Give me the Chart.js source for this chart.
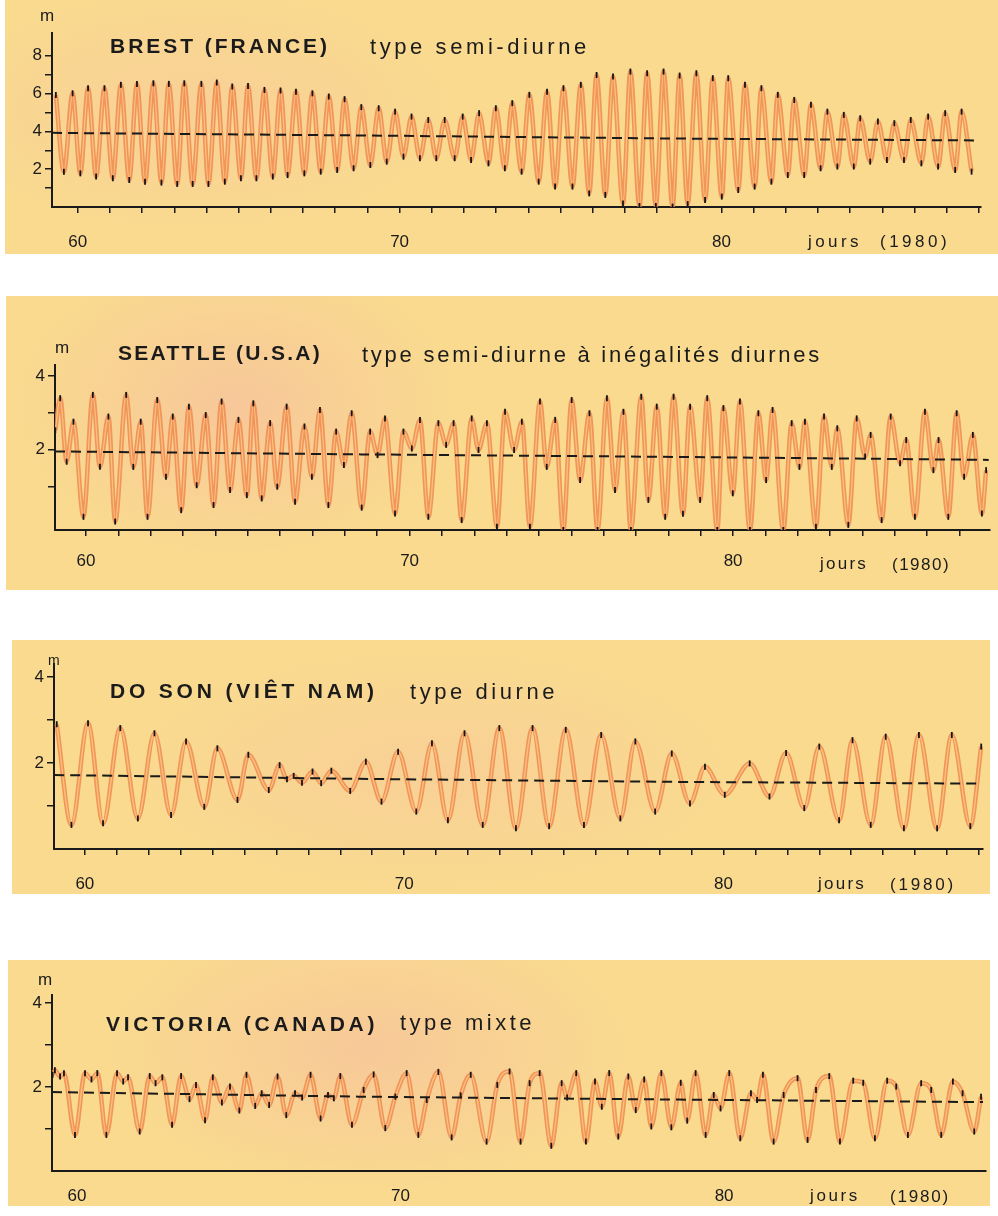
<!DOCTYPE html>
<html><head><meta charset="utf-8">
<script src="https://cdn.jsdelivr.net/npm/chart.js@4.4.1/dist/chart.umd.min.js"></script>
<style>
html,body{margin:0;padding:0;background:#fff;}
body{width:998px;height:1216px;position:relative;overflow:hidden;font-family:"Liberation Sans",Arial,sans-serif;}
.panel{position:absolute;}
.cw{position:absolute;left:0;width:998px;}
.t{position:absolute;white-space:nowrap;color:#1b1b1b;line-height:1;}
.b{font-weight:bold;}
</style></head><body>

<div class="panel" style="left:5px;top:0;width:993px;height:254px;background:radial-gradient(ellipse 260px 120px at 190px 110px, rgba(247,196,160,0.45), rgba(247,196,160,0)), #f9da8f;"></div>
<div class="panel" style="left:6px;top:296px;width:992px;height:294px;background:radial-gradient(ellipse 220px 150px at 230px 110px, rgba(246,186,160,0.6), rgba(246,186,160,0)), #f9da8f;"></div>
<div class="panel" style="left:12px;top:640px;width:978px;height:254px;background:radial-gradient(ellipse 300px 120px at 420px 130px, rgba(247,196,160,0.45), rgba(247,196,160,0)), #f9da8f;"></div>
<div class="panel" style="left:8px;top:960px;width:982px;height:246px;background:radial-gradient(ellipse 260px 140px at 360px 90px, rgba(246,186,160,0.55), rgba(246,186,160,0)), #f9da8f;"></div>

<div class="cw" style="top:0;height:256px"><canvas id="c1" width="998" height="256"></canvas></div>
<div class="cw" style="top:296px;height:294px"><canvas id="c2" width="998" height="294"></canvas></div>
<div class="cw" style="top:640px;height:255px"><canvas id="c3" width="998" height="255"></canvas></div>
<div class="cw" style="top:960px;height:246px"><canvas id="c4" width="998" height="246"></canvas></div>

<div class="t" style="left:40px;top:7px;font-size:17px">m</div>
<div class="t b" data-w="220" style="left:110px;top:35px;font-size:21px">BREST (FRANCE)</div>
<div class="t" data-w="220" style="left:370px;top:36px;font-size:22px">type semi-diurne</div>
<div class="t" data-w="54" style="left:808px;top:233px;font-size:17px">jours</div>
<div class="t" data-w="70" style="left:880px;top:233px;font-size:17px">(1980)</div>

<div class="t" style="left:55px;top:339px;font-size:17px">m</div>
<div class="t b" data-w="204" style="left:118px;top:342px;font-size:21px">SEATTLE (U.S.A)</div>
<div class="t" data-w="460" style="left:362px;top:344px;font-size:22px">type semi-diurne à inégalités diurnes</div>
<div class="t" data-w="48" style="left:820px;top:555px;font-size:17px">jours</div>
<div class="t" data-w="58" style="left:892px;top:556px;font-size:17px">(1980)</div>

<div class="t" style="left:48px;top:653px;font-size:14px">m</div>
<div class="t b" data-w="268" style="left:110px;top:680px;font-size:21px">DO SON (VIÊT NAM)</div>
<div class="t" data-w="148" style="left:410px;top:681px;font-size:22px">type diurne</div>
<div class="t" data-w="48" style="left:818px;top:875px;font-size:17px">jours</div>
<div class="t" data-w="66" style="left:890px;top:876px;font-size:17px">(1980)</div>

<div class="t" style="left:38px;top:971px;font-size:17px">m</div>
<div class="t b" data-w="272" style="left:106px;top:1013px;font-size:21px">VICTORIA (CANADA)</div>
<div class="t" data-w="135" style="left:400px;top:1012px;font-size:22px">type mixte</div>
<div class="t" data-w="50" style="left:810px;top:1187px;font-size:17px">jours</div>
<div class="t" data-w="60" style="left:890px;top:1188px;font-size:17px">(1980)</div>

<script>
// ---- DATA (days of 1980, water level in metres; successive high / low waters read from the record) ----
const brestTimes = [59.32,59.57,59.84,60.08,60.32,60.57,60.83,61.09,61.34,61.60,61.84,62.09,62.35,62.60,62.83,63.09,63.31,63.57,63.84,64.06,64.32,64.57,64.80,65.07,65.29,65.55,65.80,66.06,66.30,66.52,66.78,67.04,67.29,67.55,67.80,68.06,68.29,68.57,68.81,69.09,69.35,69.60,69.86,70.12,70.37,70.63,70.89,71.14,71.40,71.71,71.96,72.22,72.47,72.76,72.99,73.27,73.50,73.79,74.03,74.32,74.58,74.83,75.09,75.37,75.63,75.89,76.12,76.39,76.63,76.94,77.17,77.45,77.69,77.96,78.20,78.48,78.70,78.95,79.22,79.49,79.73,80.01,80.21,80.52,80.73,81.03,81.24,81.55,81.75,82.06,82.26,82.57,82.78,83.08,83.29,83.60,83.80,84.11,84.31,84.62,84.86,85.14,85.37,85.67,85.88,86.21,86.42,86.73,86.95,87.26,87.46,87.77];
const brestLevels = [5.92,1.87,6.01,1.78,6.28,1.61,6.28,1.52,6.46,1.43,6.51,1.34,6.54,1.29,6.51,1.22,6.54,1.22,6.51,1.22,6.58,1.34,6.37,1.52,6.40,1.52,6.19,1.61,6.16,1.69,6.10,1.78,6.01,1.87,5.84,1.96,5.70,2.05,5.28,2.22,5.22,2.40,5.04,2.66,4.78,2.58,4.60,2.58,4.60,2.58,4.78,2.49,4.96,2.31,5.22,2.05,5.49,1.87,5.93,1.34,6.10,1.08,6.28,1.08,6.46,0.72,6.98,0.64,6.90,0.19,7.16,0.05,7.07,0.05,7.16,0.02,6.95,0.15,7.07,0.37,6.81,0.55,6.81,0.90,6.46,1.08,6.28,1.34,5.93,1.69,5.66,1.69,5.40,2.05,5.04,2.14,4.87,2.14,4.69,2.40,4.52,2.49,4.43,2.49,4.60,2.31,4.78,2.14,4.96,1.96,5.04,1.87];
const brestMeanTimes = [59.2, 69.0, 78.5, 88.0];
const brestMeanLevels = [3.92, 3.78, 3.62, 3.52];

const seattleTimes = [59.05,59.20,59.40,59.61,59.92,60.21,60.43,60.69,60.90,61.24,61.46,61.69,61.90,62.20,62.47,62.68,62.94,63.18,63.42,63.70,63.94,64.19,64.45,64.71,64.97,65.17,65.43,65.69,65.91,66.20,66.46,66.75,66.98,67.23,67.49,67.73,67.97,68.21,68.52,68.78,69.01,69.24,69.55,69.81,70.07,70.32,70.58,70.89,71.13,71.36,71.61,71.92,72.13,72.39,72.70,72.95,73.23,73.47,73.72,74.03,74.24,74.50,74.75,75.01,75.27,75.56,75.81,76.10,76.35,76.61,76.84,77.16,77.38,77.64,77.90,78.16,78.45,78.67,78.98,79.20,79.51,79.70,79.99,80.21,80.52,80.78,81.02,81.22,81.55,81.81,82.05,82.22,82.56,82.81,83.05,83.22,83.56,83.82,84.08,84.25,84.59,84.87,85.16,85.35,85.62,85.93,86.19,86.35,86.65,86.91,87.14,87.41,87.69,87.82];
const seattleLevels = [2.53,3.40,1.67,2.76,0.17,3.49,1.53,2.90,0.04,3.49,1.53,2.76,0.17,3.35,1.26,2.90,0.35,3.17,1.03,2.94,0.49,3.31,0.90,2.81,0.76,3.26,0.67,2.72,0.99,3.17,0.58,2.63,1.26,3.08,0.49,2.49,1.58,2.99,0.42,2.49,1.85,2.85,0.26,2.49,2.03,2.81,0.17,2.72,2.13,2.72,0.08,2.85,1.99,2.72,-0.10,3.03,1.99,2.76,-0.10,3.31,1.53,2.81,-0.19,3.35,1.17,2.99,-0.19,3.40,0.90,3.03,-0.19,3.44,0.63,3.17,0.17,3.44,0.25,3.17,0.63,3.40,-0.19,3.13,0.81,3.31,-0.19,2.99,1.17,3.08,-0.19,2.72,1.53,2.76,-0.10,2.90,1.53,2.58,-0.05,2.85,1.81,2.40,0.08,2.90,1.63,2.26,0.17,3.03,1.44,2.26,0.17,2.99,1.26,2.40,0.26,1.44];
const seattleMeanTimes = [59.04, 68.5, 78.4, 87.9];
const seattleMeanLevels = [1.95, 1.87, 1.80, 1.72];

const dosonTimes = [59.12,59.58,60.10,60.57,61.11,61.66,62.18,62.70,63.17,63.74,64.15,64.78,65.12,65.76,66.10,66.33,66.54,66.80,67.13,67.40,67.72,68.31,68.80,69.29,69.81,70.38,70.87,71.37,71.89,72.46,72.98,73.50,74.02,74.54,75.06,75.63,76.17,76.77,77.24,77.86,78.38,78.95,79.42,80.04,80.82,81.44,81.96,82.53,83.00,83.62,84.04,84.61,85.08,85.65,86.12,86.69,87.15,87.73,88.07];
const dosonLevels = [2.90,0.56,2.92,0.60,2.81,0.71,2.69,0.79,2.50,0.98,2.34,1.14,2.19,1.37,1.95,1.62,1.70,1.54,1.80,1.53,1.82,1.35,2.03,1.10,2.26,0.87,2.46,0.67,2.69,0.56,2.81,0.48,2.81,0.53,2.77,0.56,2.65,0.71,2.50,0.87,2.22,1.06,1.91,1.26,1.99,1.22,2.23,0.95,2.38,0.67,2.53,0.56,2.61,0.48,2.65,0.48,2.65,0.53,2.38];
const dosonMeanTimes = [59.04, 68.6, 78.5, 88.0];
const dosonMeanLevels = [1.72, 1.63, 1.56, 1.52];

const victoriaTimes = [59.25,59.32,59.48,59.60,59.94,60.25,60.45,60.63,60.91,61.24,61.43,61.58,61.94,62.25,62.43,62.64,62.94,63.22,63.48,63.68,63.96,64.20,64.48,64.73,65.02,65.24,65.51,65.71,65.94,66.20,66.47,66.74,66.96,67.22,67.53,67.76,67.94,68.14,68.50,68.86,69.17,69.53,69.84,70.19,70.55,70.81,71.17,71.58,71.86,72.17,72.66,72.99,73.37,73.71,73.99,74.30,74.66,74.98,75.15,75.43,75.73,76.01,76.22,76.45,76.73,77.04,77.27,77.53,77.75,78.06,78.37,78.66,78.86,79.12,79.43,79.68,79.89,80.16,80.50,80.83,81.02,81.20,81.53,81.84,82.27,82.58,82.84,83.25,83.58,83.99,84.30,84.66,85.04,85.32,85.68,86.09,86.40,86.71,87.07,87.37,87.73,87.94];
const victoriaLevels = [2.29,2.40,2.25,2.33,0.86,2.33,2.18,2.33,0.86,2.33,2.13,2.23,0.94,2.26,2.09,2.23,1.10,2.26,1.71,2.05,1.21,2.23,1.63,2.01,1.44,2.29,1.55,1.85,1.57,2.25,1.33,1.85,1.75,2.29,1.25,1.81,1.73,2.26,1.10,1.93,2.30,1.02,1.77,2.33,0.86,1.69,2.36,0.80,1.80,2.29,0.70,2.05,2.37,0.70,2.09,2.33,0.60,2.09,1.75,2.33,0.70,2.13,1.53,2.33,0.82,2.25,1.45,2.18,1.06,2.33,1.04,2.10,1.20,2.33,0.86,1.81,1.49,2.33,0.78,1.85,1.69,2.29,0.70,1.81,2.21,0.74,1.93,2.26,0.70,2.15,2.10,0.78,2.15,2.01,0.86,2.09,1.93,0.86,2.13,1.85,0.94,1.77];
const victoriaMeanTimes = [59.23, 68.7, 78.6, 88.0];
const victoriaMeanLevels = [1.88, 1.77, 1.70, 1.64];

// tick labels
const xLabelDays = [60, 70, 80];
const yLabelValues = [2, 4, 6, 8];
const brestYTicks = [1, 2, 3, 4, 5, 6, 7, 8];
const seattleYTicks = [1, 2, 3, 4];
const dosonYTicks = [1, 2, 3, 4];
const victoriaYTicks = [1, 2, 3, 4];

// ---- CHARTS ----
const INK = '#1a1a1a';
const FONT = {family: '"Liberation Sans", Arial, sans-serif', size: 17};

function toXY(ts, vs) { return ts.map((t, i) => ({x: t, y: vs[i]})); }

function makeTide(id, g, times, levels, meanT, meanL, yTicks) {
  const pts = toXY(times, levels);
  const mean = toXY(meanT, meanL);
  return new Chart(document.getElementById(id), {
    type: 'line',
    data: {datasets: [
      {data: mean, borderColor: INK, borderWidth: 2, borderDash: [10, 6], pointRadius: 0, tension: 0, order: 0},
      {data: pts, borderColor: 'rgba(240,138,80,0.85)', borderWidth: 4.5, pointRadius: 0, cubicInterpolationMode: 'monotone', order: 3},
      {data: pts, borderColor: 'rgba(252,198,130,0.9)', borderWidth: 1.3, cubicInterpolationMode: 'monotone',
       pointStyle: 'line', rotation: 90, pointRadius: 3, pointBorderColor: '#141414', pointBorderWidth: 1.8, order: 1}
    ]},
    options: {
      responsive: false, animation: false, devicePixelRatio: 1,
      layout: {padding: {left: 0, top: g.padTop, right: g.padRight, bottom: g.padBottom}},
      plugins: {legend: {display: false}, tooltip: {enabled: false}, title: {display: false}},
      scales: {
        x: {type: 'linear', min: g.xMin, max: g.xMax,
            border: {display: true, color: INK, width: 2},
            grid: {display: true, drawOnChartArea: false, drawTicks: g.xTick > 0, tickLength: g.xTick, color: INK, lineWidth: 1.5},
            ticks: {stepSize: 1, includeBounds: false, autoSkip: false, maxRotation: 0, padding: g.xPad, color: INK, font: FONT,
                    callback: v => xLabelDays.includes(v) ? String(v) : ''},
            afterFit: s => { s.height = g.xh; }},
        y: {type: 'linear', min: g.yMin, max: g.yMax,
            border: {display: true, color: INK, width: 2},
            grid: {display: true, drawOnChartArea: false, drawTicks: true, tickLength: 7, color: INK, lineWidth: 1.5},
            ticks: {padding: 3, color: INK, font: FONT, callback: v => yLabelValues.includes(v) ? String(v) : ''},
            afterBuildTicks: s => { s.ticks = yTicks.map(v => ({value: v})); },
            afterFit: s => { s.width = g.axisW; }}
      }
    }
  });
}

makeTide('c1', {padTop: 33, padRight: 8, padBottom: 9, xh: 40, axisW: 52, xMin: 59.2, xMax: 88.06, yMin: 0, yMax: 9.2, xTick: 6, xPad: 19},
  brestTimes, brestLevels, brestMeanTimes, brestMeanLevels, brestYTicks);
makeTide('c2', {padTop: 69, padRight: 8, padBottom: 20, xh: 40, axisW: 55, xMin: 59.04, xMax: 87.94, yMin: -0.19, yMax: 4.305, xTick: 6, xPad: 15},
  seattleTimes, seattleLevels, seattleMeanTimes, seattleMeanLevels, seattleYTicks);
makeTide('c3', {padTop: 24, padRight: 10, padBottom: 1, xh: 45, axisW: 54, xMin: 59.034, xMax: 88.13, yMin: 0, yMax: 4.3, xTick: 6, xPad: 19},
  dosonTimes, dosonLevels, dosonMeanTimes, dosonMeanLevels, dosonYTicks);
makeTide('c4', {padTop: 35, padRight: 8, padBottom: 1, xh: 34, axisW: 52, xMin: 59.23, xMax: 88.09, yMin: 0, yMax: 4.19, xTick: 0, xPad: 15},
  victoriaTimes, victoriaLevels, victoriaMeanTimes, victoriaMeanLevels, victoriaYTicks);

// stretch the letter spacing of the captions to the widths seen in the original
document.querySelectorAll('.t[data-w]').forEach(el => {
  const w = +el.dataset.w;
  const nat = el.getBoundingClientRect().width;
  const n = el.textContent.length;
  el.style.letterSpacing = ((w - nat) / n).toFixed(2) + 'px';
});
</script>
</body></html>
